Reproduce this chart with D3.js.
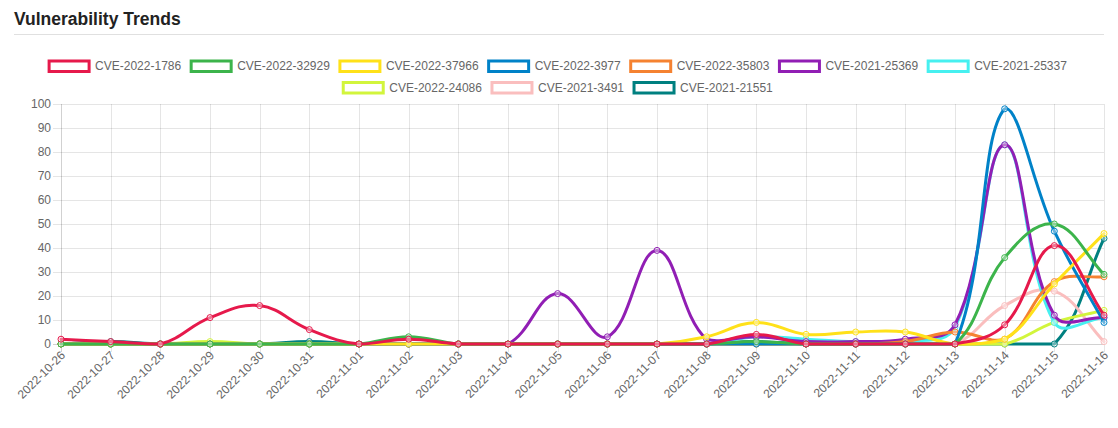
<!DOCTYPE html>
<html>
<head>
<meta charset="utf-8">
<script src="https://cdn.jsdelivr.net/npm/d3@7"></script>
<style>
  html, body { margin: 0; padding: 0; background: #fff; }
  svg { display: block; font-family: "Liberation Sans", Arial, sans-serif; }
</style>
</head>
<body>
<svg id="chart" width="1118" height="428"></svg>
<script>
const dates = ["2022-10-26","2022-10-27","2022-10-28","2022-10-29","2022-10-30","2022-10-31","2022-11-01","2022-11-02","2022-11-03","2022-11-04","2022-11-05","2022-11-06","2022-11-07","2022-11-08","2022-11-09","2022-11-10","2022-11-11","2022-11-12","2022-11-13","2022-11-14","2022-11-15","2022-11-16"];
const yTicks = [0,10,20,30,40,50,60,70,80,90,100];
const seriesNames = ["CVE-2022-1786","CVE-2022-32929","CVE-2022-37966","CVE-2022-3977","CVE-2022-35803","CVE-2021-25369","CVE-2021-25337","CVE-2022-24086","CVE-2021-3491","CVE-2021-21551"];
const seriesColors = ["#e6194b","#3cb44b","#ffe119","#0082c8","#f58231","#911eb4","#46f0f0","#d2f53c","#fabebe","#008080"];
const cve2022_1786  = [2,1,0,11,16,6,0,2,0,0,0,0,0,0,4,0,0,0,0,8,41,12];
const cve2022_32929 = [0,0,0,0,0,0,0,3,0,0,0,0,0,0,1,0,0,0,0,36,50,29];
const cve2022_37966 = [0,0,0,0,0,0,0,0,0,0,0,0,0,3,9,4,5,5,0,2,25,46];
const cve2022_3977  = [0,0,0,0,0,0,0,0,0,0,0,0,0,0,0,0,0,0,0,98,47,9];
const cve2022_35803 = [0,0,0,0,0,0,0,0,0,0,0,0,0,0,0,0,0,1,5,2,26,28];
const cve2021_25369 = [0,0,0,0,0,0,0,0,0,0,21,3,39,2,3,1,1,2,8,83,12,11];
const cve2021_25337 = [0,0,0,0,0,0,0,0,0,0,0,0,0,0,3,2,1,1,7,83,9,11];
const cve2022_24086 = [0,0,0,1,0,0,0,0,0,0,0,0,0,0,0,0,0,0,0,0,9,14];
const cve2021_3491  = [0,0,0,0,0,0,0,0,0,0,0,0,0,0,0,0,0,0,0,16,22,1];
const cve2021_21551 = [0,1,0,0,0,1,0,0,0,0,0,0,0,0,1,0,0,0,0,0,0,44];
const seriesValues = [cve2022_1786,cve2022_32929,cve2022_37966,cve2022_3977,cve2022_35803,cve2021_25369,cve2021_25337,cve2022_24086,cve2021_3491,cve2021_21551];

const series = seriesNames.map((n,i)=>({name:n, color:seriesColors[i], values:seriesValues[i]}));

const svg = d3.select("#chart");
const area = {left:61, right:1104, top:104, bottom:344};

// Title
svg.append("text").attr("x",14).attr("y",25)
  .attr("font-size","17.5px").attr("font-weight","bold").attr("fill","#222")
  .text("Vulnerability Trends");
svg.append("line").attr("x1",14).attr("x2",1104).attr("y1",34.5).attr("y2",34.5)
  .attr("stroke","#e0e0e0").attr("stroke-width",1);

// Scales
const x = d3.scalePoint().domain(dates).range([area.left, area.right]);
const y = d3.scaleLinear().domain([0,100]).range([area.bottom, area.top]);

// Grid
const grid = svg.append("g");
grid.selectAll(".hg").data(yTicks).join("line")
  .attr("x1",area.left-8).attr("x2",area.right)
  .attr("y1",d=>Math.round(y(d))+0.5).attr("y2",d=>Math.round(y(d))+0.5)
  .attr("stroke",d=>d===0?"rgba(0,0,0,0.18)":"rgba(0,0,0,0.1)");
grid.selectAll(".vg").data(dates).join("line")
  .attr("x1",d=>Math.round(x(d))+0.5).attr("x2",d=>Math.round(x(d))+0.5)
  .attr("y1",area.top).attr("y2",area.bottom+8)
  .attr("stroke",(d,i)=>i===0?"rgba(0,0,0,0.18)":"rgba(0,0,0,0.1)");

// Y labels
svg.append("g").selectAll("text").data(yTicks).join("text")
  .attr("x",51).attr("y",d=>y(d)).attr("dy","0.35em")
  .attr("text-anchor","end").attr("font-size","12px").attr("fill","#666")
  .text(d=>d);

// X labels
svg.append("g").selectAll("text").data(dates).join("text")
  .attr("transform",d=>`translate(${x(d)+2},${353}) rotate(-45)`)
  .attr("dy","0.35em")
  .attr("text-anchor","end").attr("font-size","12px").attr("fill","#666")
  .text(d=>d);

// Chart.js-style spline
function splinePath(pts, t) {
  const n = pts.length;
  const cps = pts.map((cur,i)=>{
    const prev = pts[i-1] || cur, next = pts[i+1] || cur;
    const d01 = Math.hypot(cur[0]-prev[0], cur[1]-prev[1]);
    const d12 = Math.hypot(next[0]-cur[0], next[1]-cur[1]);
    let s01 = d01/(d01+d12), s12 = d12/(d01+d12);
    if (!isFinite(s01)) s01 = 0; if (!isFinite(s12)) s12 = 0;
    const fa = t*s01, fb = t*s12;
    const clampX = v=>Math.max(area.left, Math.min(area.right, v));
    const clampY = v=>Math.max(area.top, Math.min(area.bottom, v));
    return {
      px: clampX(cur[0]-fa*(next[0]-prev[0])), py: clampY(cur[1]-fa*(next[1]-prev[1])),
      nx: clampX(cur[0]+fb*(next[0]-prev[0])), ny: clampY(cur[1]+fb*(next[1]-prev[1]))
    };
  });
  const p = d3.path();
  p.moveTo(pts[0][0], pts[0][1]);
  for (let i=1;i<n;i++) {
    p.bezierCurveTo(cps[i-1].nx, cps[i-1].ny, cps[i].px, cps[i].py, pts[i][0], pts[i][1]);
  }
  return p.toString();
}

const plot = svg.append("g");
series.slice().reverse().forEach(s=>{
  const pts = s.values.map((v,i)=>[x(dates[i]), y(v)]);
  const g = plot.append("g");
  g.append("path").attr("d", splinePath(pts, 0.4))
    .attr("fill","none").attr("stroke",s.color).attr("stroke-width",3)
    .attr("stroke-linejoin","round").attr("stroke-linecap","round");
  g.selectAll("circle").data(s.values).join("circle")
    .attr("cx",(d,i)=>x(dates[i])).attr("cy",d=>y(d)).attr("r",3)
    .attr("fill","rgba(255,255,255,0.4)").attr("stroke",s.color).attr("stroke-width",1);
});

// Legend
const legend = svg.append("g").attr("font-size","12px");
const measure = svg.append("text").attr("font-size","12px").attr("visibility","hidden");
const widths = series.map(s=>{ measure.text(s.name); return measure.node().getComputedTextLength(); });
measure.remove();
const rows = [series.slice(0,7).map((s,i)=>({s,w:widths[i]})), series.slice(7).map((s,i)=>({s,w:widths[i+7]}))];
const rowY = [59.5, 81];
const center = 563;
rows.forEach((row,ri)=>{
  const total = d3.sum(row, d=>40+6+d.w+10);
  let cx = center - total/2;
  row.forEach(d=>{
    legend.append("rect").attr("x",cx).attr("y",rowY[ri]+1.5).attr("width",40).attr("height",10.5)
      .attr("fill","#fff").attr("stroke",d.s.color).attr("stroke-width",3);
    legend.append("text").attr("x",cx+46).attr("y",rowY[ri]+6.75).attr("dy","0.35em")
      .attr("fill","#666").text(d.s.name);
    cx += 40+6+d.w+10;
  });
});
</script>
</body>
</html>
